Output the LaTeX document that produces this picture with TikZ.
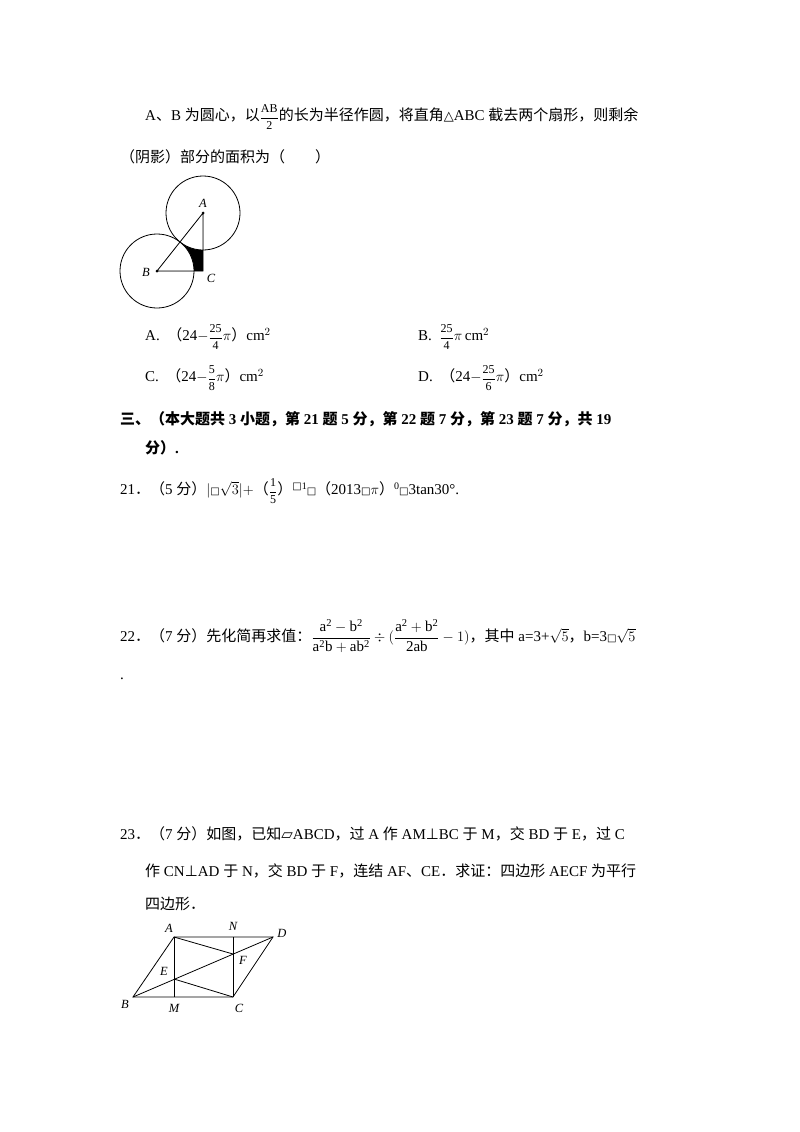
\documentclass[tikz,border=0pt]{standalone}
\usepackage{amsmath}
\usepackage{fontspec}
\setmainfont{Liberation Serif}
\newfontfamily\zh{Noto Sans CJK SC}
\newfontfamily\djv{DejaVu Sans}
\usetikzlibrary{calc}
\newcommand{\bx}{{\djv\fontsize{10}{10}\selectfont □}}
\newcommand{\smf}[2]{{\fontsize{12}{12}\selectfont$\dfrac{\mathrm{#1}}{\mathrm{#2}}$}}
\begin{document}
\begin{tikzpicture}[x=1pt,y=-1pt,
  txt/.style={anchor=west,inner sep=0pt,font=\fontsize{15}{18}\selectfont},
  lab/.style={inner sep=0pt,font=\fontsize{12.5}{13}\selectfont\itshape},
  ln/.style={line width=0.8pt}]
\useasboundingbox[fill=white] (0,0) rectangle (800,1132);
% line 1
\node[txt] (l1) at (145,117) {A{\zh 、}B {\zh 为圆心，以}\smf{AB}{2}{\zh 的长为半径作圆，将直角}{\djv\fontsize{13}{13}\selectfont △}ABC {\zh 截去两个扇形，则剩余}};
\node[txt] (l2) at (120,157) {{\zh （阴影）部分的面积为（\quad\quad ）}};
% figure 1
\coordinate (A) at (203,213);
\coordinate (B) at (157,271);
\coordinate (C) at (203,271);
\begin{scope}
  \clip (A) -- (B) -- (C) -- cycle;
  \fill[black] (A) -- (B) -- (C) -- cycle;
  \fill[white] (A) circle (37);
  \fill[white] (B) circle (37);
\end{scope}
\draw[ln] (A) circle (37);
\draw[ln] (B) circle (37);
\draw[ln] (A) -- (B) -- (C) -- cycle;
\fill (A) circle (1.5); \fill (B) circle (1.5);
\node[lab] (la) at (203,203) {A};
\node[lab] (lb) at (146,272) {B};
\node[lab] (lc) at (211,278) {C};
% options
\node[txt] (oa) at (145,337) {A.\enspace {\zh （}24$-$\smf{25}{4}$\pi${\zh ）}cm$^2$};
\node[txt] (ob) at (418,337) {B.\enspace \smf{25}{4}$\pi$\,cm$^2$};
\node[txt] (oc) at (145,378) {C.\enspace {\zh （}24$-$\smf{5}{8}$\pi${\zh ）}cm$^2$};
\node[txt] (od) at (418,378) {D.\enspace {\zh （}24$-$\smf{25}{6}$\pi${\zh ）}cm$^2$};
% section
\node[txt] (s1) at (120,419) {\bfseries{\zh\bfseries 三、（本大题共} 3 {\zh 小题，第} 21 {\zh 题} 5 {\zh 分，第} 22 {\zh 题} 7 {\zh 分，第} 23 {\zh 题} 7 {\zh 分，共} 19};
\node[txt] (s2) at (145,448) {\bfseries{\zh 分）}.};
% 21
\node[txt] (q21) at (120,491) {21{\zh ．（}5 {\zh 分）}$|$\bx$\sqrt{3}|+${\zh （}\smf{1}{5}{\zh ）}\raisebox{5pt}{\bx{\fontsize{10}{10}\selectfont 1}}\bx{\zh （}2013\bx$\pi${\zh ）}\raisebox{5pt}{\fontsize{10}{10}\selectfont 0}\bx3tan30°.};
% 22
\node[txt] (q22) at (120,636) {22{\zh ．（}7 {\zh 分）先化简再求值：}{\fontsize{15}{15}\selectfont$\dfrac{\mathrm{a^2-b^2}}{\mathrm{a^2b+ab^2}}\div(\dfrac{\mathrm{a^2+b^2}}{\mathrm{2ab}}-1)$}{\zh ，其中} a=3+$\sqrt{5}${\zh ，}b=3\bx$\sqrt{5}$};
\node[txt] (q22b) at (120,679) {.};
% 23
\node[txt] (q23a) at (120,834) {23{\zh ．（}7 {\zh 分）如图，已知}{\djv ▱}ABCD{\zh ，过} A {\zh 作} AM{\djv ⊥}BC {\zh 于} M{\zh ，交} BD {\zh 于} E{\zh ，过} C};
\node[txt] (q23b) at (145,871) {{\zh 作} CN{\djv ⊥}AD {\zh 于} N{\zh ，交} BD {\zh 于} F{\zh ，连结} AF{\zh 、}CE{\zh ．求证：四边形} AECF {\zh 为平行}};
\node[txt] (q23c) at (145,904) {{\zh 四边形．}};
% figure 2
\coordinate (pA) at (174,937);
\coordinate (pN) at (233,937);
\coordinate (pD) at (273,937);
\coordinate (pB) at (133,997);
\coordinate (pM) at (174,997);
\coordinate (pC) at (233,997);
\coordinate (pE) at (174,979);
\coordinate (pF) at (233,954);
\draw[ln] (pA) -- (pD) -- (pC) -- (pB) -- cycle;
\draw[ln] (pA) -- (pM);
\draw[ln] (pN) -- (pC);
\draw[ln] (pB) -- (pD);
\draw[ln] (pA) -- (pF);
\draw[ln] (pC) -- (pE);
\node[lab] (tA) at (169,928) {A};
\node[lab] (tN) at (233,926) {N};
\node[lab] (tD) at (282,933) {D};
\node[lab] (tB) at (125,1004) {B};
\node[lab] (tM) at (174,1008) {M};
\node[lab] (tC) at (239,1008) {C};
\node[lab] (tE) at (164,971) {E};
\node[lab] (tF) at (243,960) {F};
\end{tikzpicture}
\end{document}
